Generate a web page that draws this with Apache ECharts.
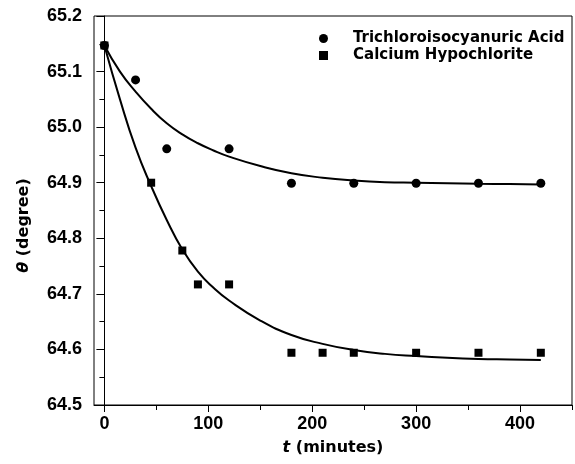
<!DOCTYPE html>
<html>
<head>
<meta charset="utf-8">
<script src="https://cdn.jsdelivr.net/npm/echarts@6/dist/echarts.min.js"></script>
<style>
html,body{margin:0;padding:0;background:#fff;}
#chart{width:575px;height:464px;}
</style>
</head>
<body>
<div id="chart"></div>
<script>
// Measured data (time in minutes, theta in degrees)
var acidT = [0, 30, 60, 120, 180, 240, 300, 360, 420];
var acidV = [65.147, 65.085, 64.961, 64.961, 64.899, 64.899, 64.899, 64.899, 64.899];
var hypoT = [0, 45, 75, 90, 120, 180, 210, 240, 300, 360, 420];
var hypoV = [65.147, 64.900, 64.778, 64.717, 64.717, 64.594, 64.594, 64.594, 64.594, 64.594, 64.594];
// Fitted curves
var fitT = [0, 15, 30, 45, 60, 75, 90, 105, 120, 150, 180, 210, 240, 270, 300, 330, 360, 390, 420];
var acidFit = [65.147, 65.100, 65.064, 65.033, 65.007, 64.987, 64.971, 64.958, 64.947, 64.930, 64.917, 64.909, 64.904, 64.901, 64.900, 64.899, 64.898, 64.8975, 64.897];
var hypoFit = [65.147, 65.050, 64.963, 64.894, 64.833, 64.780, 64.740, 64.711, 64.688, 64.652, 64.626, 64.610, 64.599, 64.592, 64.588, 64.585, 64.583, 64.582, 64.581];
// Axis ticks
var xMajorTicks = [0, 100, 200, 300, 400];
var xMinorTicks = [50, 150, 250, 350, 450];
var seriesNames = ['Trichloroisocyanuric Acid', 'Calcium Hypochlorite'];

function pairs(xs, ys) { return xs.map(function (x, i) { return [x, ys[i]]; }); }

var tickFamily = 'Liberation Sans, Arial, sans-serif';
var titleFamily = 'DejaVu Sans, sans-serif';

var chart = echarts.init(document.getElementById('chart'), null, { renderer: 'canvas' });
chart.setOption({
  animation: false,
  backgroundColor: '#fff',
  grid: { left: 94, right: 3, top: 16, bottom: 59, show: true, borderColor: '#000', borderWidth: 1, containLabel: false },
  legend: {
    orient: 'vertical', left: 314, top: 26,
    itemWidth: 9, itemHeight: 9, itemGap: 2,
    data: [{ name: seriesNames[0], icon: 'circle' }, { name: seriesNames[1], icon: 'rect' }],
    itemStyle: { opacity: 1 },
    textStyle: { fontFamily: titleFamily, fontWeight: 'bold', fontSize: 15, color: '#000', padding: [0, 0, 0, 20] }
  },
  xAxis: [{
    type: 'value', min: -10, max: 450, position: 'bottom',
    splitLine: { show: false },
    axisLine: { lineStyle: { color: '#000', width: 1 } },
    axisTick: { show: true, length: 7, customValues: xMajorTicks, lineStyle: { color: '#000', width: 1 } },
    axisLabel: { customValues: xMajorTicks, margin: 10, fontFamily: tickFamily, fontWeight: 'bold', fontSize: 18, color: '#000' },
    name: '{i|t} (minutes)', nameLocation: 'middle', nameGap: 35,
    nameTextStyle: { fontFamily: titleFamily, fontWeight: 'bold', fontSize: 16, color: '#000', rich: { i: { fontFamily: titleFamily, fontWeight: 'bold', fontStyle: 'italic', fontSize: 16, color: '#000' } } }
  }, {
    type: 'value', min: -10, max: 450, position: 'bottom', gridIndex: 0,
    splitLine: { show: false },
    axisLine: { show: false },
    axisTick: { show: true, length: 5, customValues: xMinorTicks, lineStyle: { color: '#000', width: 1 } },
    axisLabel: { show: false }
  }],
  yAxis: {
    type: 'value', min: 64.5, max: 65.2, interval: 0.1,
    splitLine: { show: false },
    axisLine: { show: true, lineStyle: { color: '#000', width: 1 } },
    axisTick: { show: true, length: 8, lineStyle: { color: '#000', width: 1 } },
    minorTick: { show: true, splitNumber: 2, length: 5, lineStyle: { color: '#000', width: 1 } },
    axisLabel: { margin: 12, fontFamily: tickFamily, fontWeight: 'bold', fontSize: 18, color: '#000', formatter: function (v) { return v.toFixed(1); } },
    name: '{i|θ} (degree)', nameLocation: 'middle', nameGap: 62, nameRotate: 90,
    nameTextStyle: { fontFamily: titleFamily, fontWeight: 'bold', fontSize: 16, color: '#000', padding: [0, 30, 0, 0], rich: { i: { fontFamily: titleFamily, fontWeight: 'bold', fontStyle: 'italic', fontSize: 16, color: '#000' } } }
  },
  series: [
    { name: 'fit1', type: 'line', xAxisIndex: 0, data: pairs(fitT, acidFit), smooth: 0.5, showSymbol: false, symbol: 'none', lineStyle: { color: '#000', width: 2 }, z: 2 },
    { name: 'fit2', type: 'line', xAxisIndex: 0, data: pairs(fitT, hypoFit), smooth: 0.5, showSymbol: false, symbol: 'none', lineStyle: { color: '#000', width: 2 }, z: 2 },
    { name: seriesNames[0], type: 'scatter', xAxisIndex: 0, data: pairs(acidT, acidV), symbol: 'circle', symbolSize: 9, itemStyle: { color: '#000', opacity: 1 }, z: 3 },
    { name: seriesNames[1], type: 'scatter', xAxisIndex: 0, data: pairs(hypoT, hypoV), symbol: 'rect', symbolSize: 8, itemStyle: { color: '#000', opacity: 1 }, z: 3 }
  ]
});
</script>
</body>
</html>
